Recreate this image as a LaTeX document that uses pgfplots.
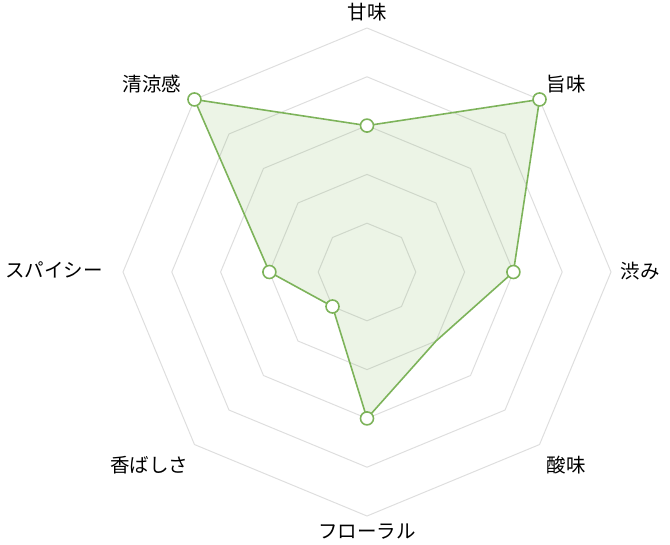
\documentclass[border=0pt]{standalone}
\usepackage{pgfplots}
\pgfplotsset{compat=1.18}
\usepgfplotslibrary{polar}
\usepackage{fontspec}
\setmainfont{Noto Sans CJK JP}
\definecolor{lg}{HTML}{7DB35A}
\definecolor{grd}{HTML}{DEDEDE}
\begin{document}
\begin{tikzpicture}[x=1pt,y=1pt]
\path (0,0) rectangle (670,-545);
\begin{polaraxis}[at={(367pt,-272pt)}, anchor=center, scale only axis, width=488pt, height=488pt,
  hide axis, ymin=0, ymax=5, clip=false]
\addplot[grd, line width=1pt] coordinates {(90,1)(45,1)(0,1)(315,1)(270,1)(225,1)(180,1)(135,1)(90,1)};
\addplot[grd, line width=1pt] coordinates {(90,2)(45,2)(0,2)(315,2)(270,2)(225,2)(180,2)(135,2)(90,2)};
\addplot[grd, line width=1pt] coordinates {(90,3)(45,3)(0,3)(315,3)(270,3)(225,3)(180,3)(135,3)(90,3)};
\addplot[grd, line width=1pt] coordinates {(90,4)(45,4)(0,4)(315,4)(270,4)(225,4)(180,4)(135,4)(90,4)};
\addplot[grd, line width=1pt] coordinates {(90,5)(45,5)(0,5)(315,5)(270,5)(225,5)(180,5)(135,5)(90,5)};
\addplot[lg, line width=1.6pt, fill=lg, fill opacity=0.15, mark=*, mark size=6.5pt,
  mark options={fill=white, draw=lg, fill opacity=1, line width=1.6pt}, mark indices={1,2,3,5,6,7,8}]
  coordinates {(90,3)(45,5)(0,3)(315,2)(270,3)(225,1)(180,2)(135,5)(90,3)};
\end{polaraxis}
\begin{scope}[every node/.style={font=\fontsize{19.5}{22}\selectfont, text=black, inner sep=0pt}]
\node at (367,-12) {甘味};
\node at (566,-84) {旨味};
\node at (640,-271) {渋み};
\node at (566,-465) {酸味};
\node at (367,-532) {フローラル};
\node at (149,-465) {香ばしさ};
\node at (54,-270) {スパイシー};
\node at (152,-84) {清涼感};
\end{scope}
\end{tikzpicture}
\end{document}
